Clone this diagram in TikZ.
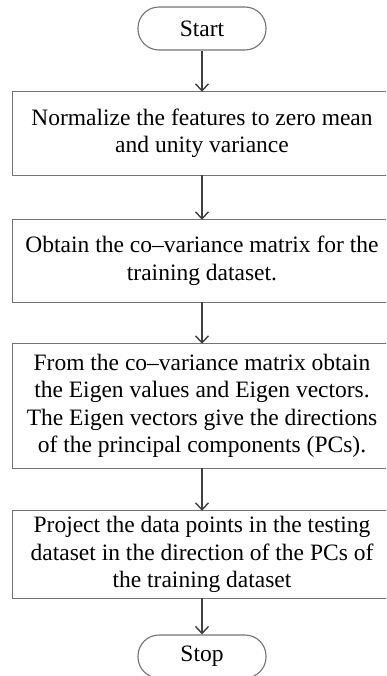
\documentclass[tikz,border=0pt]{standalone}
\usepackage{fontspec}
\setmainfont{Liberation Serif}
\usetikzlibrary{arrows.meta}
\begin{document}
\begin{tikzpicture}[x=1pt,y=1pt,
  stepbox/.style={minimum width=378pt, align=center, inner sep=0pt,
    font=\fontsize{23.5}{27.5}\selectfont},
  boxline/.style={draw=black!55, line width=1.2pt},
  term/.style={draw=black!55, line width=1.1pt, rounded corners=21pt, minimum width=128pt, minimum height=43pt,
    inner sep=0pt, font=\fontsize{23.5}{27}\selectfont},
  conn/.style={draw=black!75, line width=1.4pt, -{Straight Barb[length=7pt,width=13pt,line width=1.4pt]}}]
\useasboundingbox (0,0) rectangle (386,-676);
\clip (0,0) rectangle (386,-676);
\node[term] (start) at (202,-28.5) {Start};
\node[stepbox, minimum height=83pt] (b1) at (202,-133.5) {Normalize the features to zero mean\\and unity variance};
\node[stepbox, minimum height=82pt] (b2) at (202,-261) {Obtain the co–variance matrix for the\\training dataset.};
\node[stepbox, minimum height=124pt] (b3) at (202,-406) {From the co–variance matrix obtain\\the Eigen values and Eigen vectors.\\The Eigen vectors give the directions\\of the principal components (PCs).};
\node[stepbox, minimum height=87pt] (b4) at (202,-554.5) {Project the data points in the testing\\dataset in the direction of the PCs of\\the training dataset};
\node[term] (stop) at (202,-656.5) {Stop};
\foreach \b in {b1,b2,b3,b4}{
  \draw[boxline] (\b.south west) rectangle ([xshift=20pt]\b.north east);
}
\draw[conn] (start) -- (b1);
\draw[conn] (b1) -- (b2);
\draw[conn] (b2) -- (b3);
\draw[conn] (b3) -- (b4);
\draw[conn] (b4) -- (stop);
\end{tikzpicture}
\end{document}
